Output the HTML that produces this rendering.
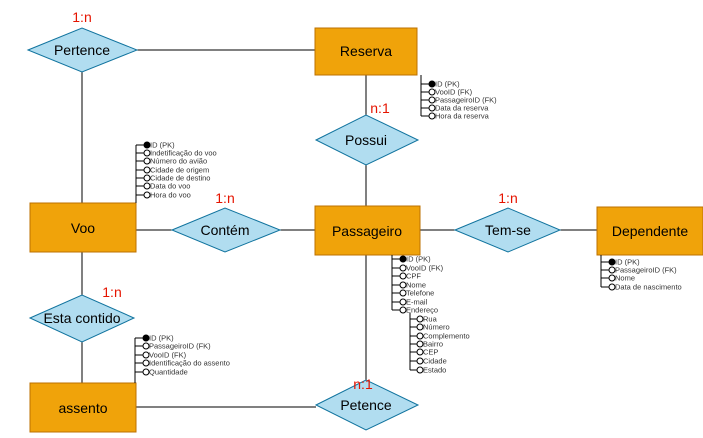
<!DOCTYPE html>
<html><head><meta charset="utf-8"><style>
html,body{margin:0;padding:0;background:#fff;width:703px;height:438px;overflow:hidden}
svg{display:block;font-family:"Liberation Sans",sans-serif}
.e{fill:#f0a30a;stroke:#bd7000;stroke-width:1}
.d{fill:#b1ddf0;stroke:#10739e;stroke-width:1}
.l{stroke:#000;stroke-width:1;fill:none}
.t{font-size:14px;text-anchor:middle;dominant-baseline:central;fill:#000}
.r{font-size:14px;fill:#e51400;text-anchor:middle}
.a{font-size:7.5px;fill:#333}
</style></head><body>
<svg id="s" width="703" height="438" viewBox="0 0 703 438">
<g class="l">
<line x1="137" y1="50" x2="315" y2="50"/>
<line x1="82" y1="72" x2="82" y2="203"/>
<line x1="366" y1="75" x2="366" y2="115"/>
<line x1="366" y1="165" x2="366" y2="206"/>
<line x1="136" y1="230" x2="172" y2="230"/>
<line x1="280" y1="230" x2="315" y2="230"/>
<line x1="420" y1="230" x2="455" y2="230"/>
<line x1="560" y1="230" x2="597" y2="230"/>
<line x1="82" y1="252" x2="82" y2="295"/>
<line x1="82" y1="342" x2="82" y2="383"/>
<line x1="136" y1="407" x2="316" y2="407"/>
<line x1="366" y1="255" x2="366" y2="380"/>
</g>
<rect class="e" x="315" y="28" width="102" height="47"/>
<rect class="e" x="30" y="203" width="106" height="49"/>
<rect class="e" x="315" y="206" width="105" height="49"/>
<rect class="e" x="597" y="207" width="106" height="48"/>
<rect class="e" x="30" y="383" width="106" height="49"/>
<polygon class="d" points="28,50 82,28 137,50 82,72"/>
<polygon class="d" points="316,140 366,115 418,140 366,165"/>
<polygon class="d" points="172,230 225,208 280,230 225,252"/>
<polygon class="d" points="455,230 508,208 560,230 508,252"/>
<polygon class="d" points="30,318 82,295 134,318 82,342"/>
<polygon class="d" points="316,405 366,380 418,405 366,430"/>
<text class="t" x="366" y="51">Reserva</text>
<text class="t" x="83" y="228">Voo</text>
<text class="t" x="367" y="231">Passageiro</text>
<text class="t" x="650" y="231">Dependente</text>
<text class="t" x="83" y="408">assento</text>
<text class="t" x="82" y="50">Pertence</text>
<text class="t" x="366" y="140">Possui</text>
<text class="t" x="225" y="230">Contém</text>
<text class="t" x="508" y="230">Tem-se</text>
<text class="t" x="82" y="318">Esta contido</text>
<text class="t" x="366" y="405">Petence</text>
<text class="r" x="82" y="22">1:n</text>
<text class="r" x="380" y="113">n:1</text>
<text class="r" x="225" y="203">1:n</text>
<text class="r" x="508" y="203">1:n</text>
<text class="r" x="112" y="297">1:n</text>
<text class="r" x="363" y="389">n:1</text>
<g id="trees"></g>
</svg>
<script>
var g=document.getElementById('trees'),ns='http://www.w3.org/2000/svg',h='';
function tree(x,y0,ys,labels,x0top){
  var cx=x+11;
  h+='<line class="l" x1="'+x+'" y1="'+y0+'" x2="'+x+'" y2="'+ys[ys.length-1]+'"/>';
  ys.forEach(function(y,i){
    h+='<line class="l" x1="'+x+'" y1="'+y+'" x2="'+(cx-3)+'" y2="'+y+'"/>';
    h+='<circle cx="'+cx+'" cy="'+y+'" r="3" stroke="#000" stroke-width="1" fill="'+(i==0?'#000':'#fff')+'"/>';
    h+='<text class="a" x="'+(cx+3)+'" y="'+(y+2.5)+'">'+labels[i]+'</text>';
  });
}
tree(421,75,[84,92,100,108,116],['ID (PK)','VooID (FK)','PassageiroID (FK)','Data da reserva','Hora da reserva']);
tree(136,145,[145,153,161,170,178,186,195],['ID (PK)','Indetificação do voo','Número do avião','Cidade de origem','Cidade de destino','Data do voo','Hora do voo']);
h+='<line class="l" x1="136" y1="195" x2="136" y2="203"/>';
tree(135,338,[338,346,355,363,372],['ID (PK)','PassageiroID (FK)','VooID (FK)','Identificação do assento','Quantidade']);
h+='<line class="l" x1="135" y1="372" x2="135" y2="383"/>';
tree(392,255,[259,268,276,285,293,302,310],['ID (PK)','VooID (FK)','CPF','Nome','Telefone','E-mail','Endereço']);
var ys=[319,327,336,344,352,361,370],lb=['Rua','Número','Complemento','Bairro','CEP','Cidade','Estado'];
h+='<line class="l" x1="410" y1="313" x2="410" y2="370"/>';
ys.forEach(function(y,i){h+='<line class="l" x1="410" y1="'+y+'" x2="417" y2="'+y+'"/><circle cx="420" cy="'+y+'" r="3" stroke="#000" fill="#fff"/><text class="a" x="423" y="'+(y+2.5)+'">'+lb[i]+'</text>';});
tree(601,255,[262,270,278,287],['ID (PK)','PassageiroID (FK)','Nome','Data de nascimento']);
g.innerHTML=h;
</script>
</body></html>
